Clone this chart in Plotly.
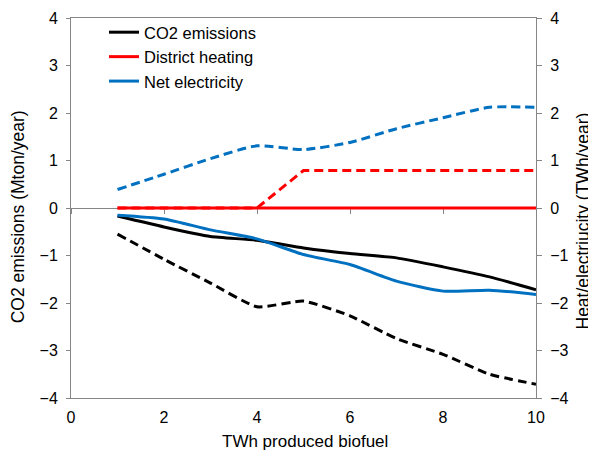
import plotly.graph_objects as go

x = [1, 2, 3, 4, 5, 6, 7, 8, 9, 10]
co2_solid = [-0.17, -0.40, -0.60, -0.68, -0.84, -0.96, -1.05, -1.24, -1.45, -1.72]
co2_dash = [-0.55, -1.08, -1.58, -2.08, -1.96, -2.27, -2.75, -3.08, -3.50, -3.71]
heat_solid = [0, 0, 0, 0, 0, 0, 0, 0, 0, 0]
heat_dash = [0, 0, 0, 0, 0.79, 0.79, 0.79, 0.79, 0.79, 0.79]
elec_solid = [-0.15, -0.23, -0.46, -0.65, -0.98, -1.19, -1.54, -1.75, -1.73, -1.82]
elec_dash = [0.39, 0.71, 1.04, 1.31, 1.23, 1.38, 1.67, 1.90, 2.12, 2.12]

x_title = "TWh produced biofuel"
y_left_title = "CO2 emissions (Mton/year)"
y_right_title = "Heat/electriucity (TWh/year)"

BLACK = "#000000"
RED = "#FF0000"
BLUE = "#0070C0"
AX = "#868686"
FONT = "Liberation Sans, Arial, sans-serif"
DASH = "9px,5px"
FS = 16

fig = go.Figure()
fig.add_trace(go.Scatter(x=x, y=heat_dash, mode="lines", yaxis="y2", showlegend=False,
                         line=dict(color=RED, width=3, dash=DASH)))
fig.add_trace(go.Scatter(x=x, y=elec_dash, mode="lines", yaxis="y2", showlegend=False,
                         line=dict(color=BLUE, width=3, dash=DASH, shape="spline", smoothing=0.6)))
fig.add_trace(go.Scatter(x=x, y=co2_dash, mode="lines", showlegend=False,
                         line=dict(color=BLACK, width=3, dash=DASH, shape="spline", smoothing=0.5)))
fig.add_trace(go.Scatter(x=x, y=heat_solid, mode="lines", name="District heating", yaxis="y2",
                         line=dict(color=RED, width=3), legendrank=2))
fig.add_trace(go.Scatter(x=x, y=elec_solid, mode="lines", name="Net electricity", yaxis="y2",
                         line=dict(color=BLUE, width=3, shape="spline", smoothing=0.6), legendrank=3))
fig.add_trace(go.Scatter(x=x, y=co2_solid, mode="lines", name="CO2 emissions",
                         line=dict(color=BLACK, width=3, shape="spline", smoothing=0.5), legendrank=1))
# invisible trace to draw the x-axis through zero
fig.add_trace(go.Scatter(x=x, y=heat_solid, xaxis="x2", mode="lines", showlegend=False,
                         hoverinfo="skip", line=dict(width=0), opacity=0))

fig.update_layout(
    width=588, height=444,
    margin=dict(l=63, r=60, t=7, b=54),
    paper_bgcolor="white", plot_bgcolor="white",
    font=dict(family=FONT, size=FS, color="#000000"),
    showlegend=True,
    legend=dict(x=0.071, y=1.008, xanchor="left", yanchor="top", bgcolor="rgba(0,0,0,0)",
                font=dict(size=16.5), tracegroupgap=0, itemwidth=30),
    xaxis=dict(range=[0, 10], dtick=2, showgrid=False, zeroline=False, automargin=False,
               showline=True, linecolor=AX, linewidth=1, mirror=True, ticks="",
               tickfont=dict(size=FS), ticklabelstandoff=5),
    xaxis2=dict(range=[0, 10], dtick=2, overlaying="x", anchor="free", position=0.5,
                showgrid=False, zeroline=False, showline=True, linecolor=AX, linewidth=1,
                ticks="outside", ticklen=5, tickcolor=AX, showticklabels=False,
                automargin=False, layer="below traces"),
    yaxis=dict(range=[-4, 4], dtick=1, showgrid=False, zeroline=False, automargin=False,
               showline=True, linecolor=AX, linewidth=1, ticks="outside", ticklen=4,
               tickcolor=AX, tickfont=dict(size=FS), ticklabelstandoff=5),
    yaxis2=dict(range=[-4, 4], dtick=1, overlaying="y", side="right", showgrid=False,
                zeroline=False, showline=True, linecolor=AX, linewidth=1, ticks="outside",
                ticklen=5, tickcolor=AX, tickfont=dict(size=FS), automargin=False,
                ticklabelstandoff=5),
    annotations=[
        dict(text=x_title, xref="paper", yref="paper", x=0.503, y=-0.115,
             xanchor="center", yanchor="middle", showarrow=False, font=dict(size=17)),
        dict(text=y_left_title, xref="paper", yref="paper", x=-0.114, y=0.478,
             xanchor="center", yanchor="middle", textangle=-90, showarrow=False,
             font=dict(size=17.5)),
        dict(text=y_right_title, xref="paper", yref="paper", x=1.101, y=0.467,
             xanchor="center", yanchor="middle", textangle=-90, showarrow=False,
             font=dict(size=17.5)),
    ],
)

fig.write_html("out.html")
